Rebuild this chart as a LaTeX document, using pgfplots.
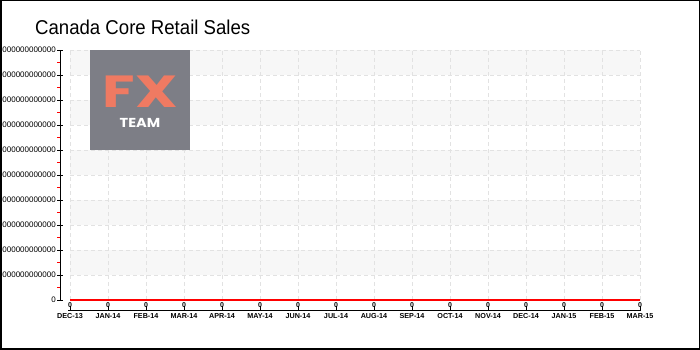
\documentclass[border=0pt]{standalone}
\usepackage{pgfplots}
\pgfplotsset{compat=1.18}
\usepackage{fontspec}
\setmainfont{Liberation Sans}
\newfontfamily\logofont{Poppins}
\definecolor{band}{HTML}{F7F7F7}
\definecolor{gridc}{HTML}{E2E2E2}
\definecolor{logogray}{HTML}{7D7E86}
\definecolor{logored}{HTML}{EF7A62}
\begin{document}
\begin{tikzpicture}[x=1pt,y=1pt]
\useasboundingbox (0,0) rectangle (700,350);
\fill[white] (0,0) rectangle (700,350);
% bands
\foreach \k in {1,3,5,7,9} {\fill[band] (70,{50+25*\k}) rectangle (640,{75+25*\k});}
% grid
\foreach \j in {0,...,10} {\draw[gridc, dash pattern=on 4pt off 3pt] (70,{50+25*\j}) -- (640,{50+25*\j});}
\foreach \i in {0,...,15} {\draw[gridc, dash pattern=on 4pt off 3pt] ({70+38*\i},50) -- ({70+38*\i},300);}
% logo
\fill[logogray] (90,200) rectangle (190,300);
\node[logored, anchor=base, inner sep=0pt, font=\logofont\bfseries\fontsize{45}{45}\selectfont] at (140,242) {\scalebox{1.32}[1]{FX}};
\node[white, anchor=base, inner sep=0pt, font=\logofont\bfseries\fontsize{13}{13}\selectfont] at (140,222) {\scalebox{1.12}[1]{TEAM}};
% title
\node[anchor=base west, inner sep=0pt, font=\fontsize{20}{20}\selectfont] at (35,315) {\scalebox{0.93}[1]{Canada Core Retail Sales}};
\begin{axis}[
  at={(70pt,50pt)}, anchor=south west,
  scale only axis, width=570pt, height=250pt,
  xmin=0, xmax=15, ymin=0, ymax=10,
  clip=false,
  axis line style={draw=none},
  major tick length=0pt, minor tick length=0pt,
  xtick={0,...,15},
  xticklabels={DEC-13,JAN-14,FEB-14,MAR-14,APR-14,MAY-14,JUN-14,JUL-14,AUG-14,SEP-14,OCT-14,NOV-14,DEC-14,JAN-15,FEB-15,MAR-15},
  ytick={0,...,10},
  yticklabels={0,000000000000,000000000000,000000000000,000000000000,000000000000,000000000000,000000000000,000000000000,000000000000,000000000000},
  xticklabel style={anchor=north, inner sep=0pt, yshift=-13pt, font=\bfseries\fontsize{7.2}{8}\selectfont},
  yticklabel style={anchor=east, inner sep=0pt, xshift=-14pt, font=\fontsize{8}{8}\selectfont},
  nodes near coords={0},
  every node near coord/.append style={anchor=center, inner sep=0pt, yshift=-5pt, font=\bfseries\fontsize{7}{7}\selectfont, black},
]
\addplot[red, line width=1.3pt, mark=none] coordinates {
(0,0) (1,0) (2,0) (3,0) (4,0) (5,0) (6,0) (7,0) (8,0) (9,0) (10,0) (11,0) (12,0) (13,0) (14,0) (15,0)};
\end{axis}
% axis lines and ticks
\draw[black, line width=0.8pt] (60,50) -- (60,300);
\foreach \j in {0,...,10} {\draw[black, line width=0.8pt] (57,{50+25*\j}) -- (63,{50+25*\j});}
\foreach \j in {0,...,9} {\draw[red, line width=0.8pt] (57,{62.5+25*\j}) -- (60,{62.5+25*\j});}
\draw[black, line width=0.8pt] (68,40) -- (641,40);
\foreach \i in {0,...,15} {\draw[black, line width=0.8pt] ({70+38*\i},40) -- ({70+38*\i},44);}
% border
\draw[black, line width=1.5pt] (0.75,0.75) rectangle (699.25,349.25);
\end{tikzpicture}
\end{document}
